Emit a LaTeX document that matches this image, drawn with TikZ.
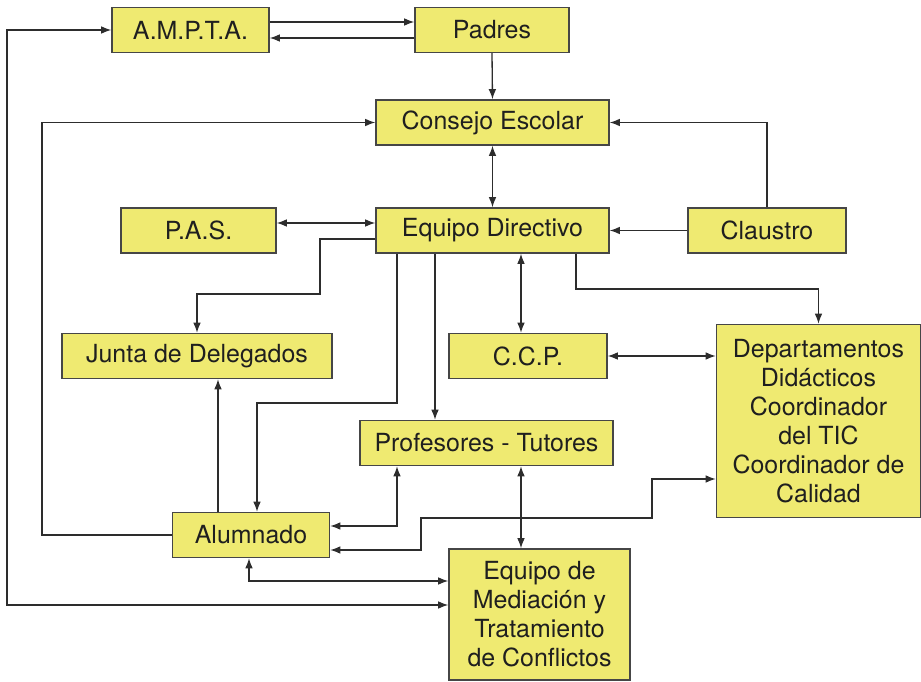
\documentclass[tikz,border=0pt]{standalone}
\usepackage{fontspec}
\setmainfont{TeX Gyre Heros}
\usepackage{xcolor}
\usepackage{tikz}
\usetikzlibrary{arrows.meta}

\definecolor{boxyellow}{RGB}{239,234,113}
\definecolor{boxline}{RGB}{70,70,70}
\definecolor{wire}{RGB}{45,45,45}

\begin{document}
\begin{tikzpicture}[x=0.02cm, y=-0.02cm,
    box/.style={draw=boxline, line width=0.85pt, fill=boxyellow, text=black!88,
      inner sep=0pt, minimum height=0.9cm, align=center,
      font=\fontsize{14.2}{16.5}\selectfont},
    link/.style={draw=wire, line width=0.75pt},
    >={Latex[length=5.8pt,width=4.4pt]}]
    \useasboundingbox (0,0) rectangle (921,682);

    \node[box, minimum width=3.14cm] (ampta) at (190.5,30) {A.M.P.T.A.};
    \node[box, minimum width=3.08cm] (padres) at (492,30) {Padres};
    \node[box, minimum width=4.66cm] (consejo) at (492.5,122.5) {Consejo Escolar};
    \node[box, minimum width=3.1cm] (pas) at (198.5,230.5) {P.A.S.};
    \node[box, minimum width=4.66cm] (equipo) at (492.5,230.5) {Equipo Directivo};
    \node[box, minimum width=3.16cm] (claustro) at (767,230.5) {Claustro};
    \node[box, minimum width=5.4cm] (junta) at (197,356) {Junta de Delegados};
    \node[box, minimum width=3.16cm] (ccp) at (528,356) {C.C.P.};
    \node[box, minimum width=4.08cm, minimum height=3.86cm] (dept) at (818.5,421)
      {Departamentos\\Didácticos\\Coordinador\\del TIC\\Coordinador de\\Calidad};
    \node[box, minimum width=5.06cm] (prof) at (486.5,443) {Profesores - Tutores};
    \node[box, minimum width=3.14cm] (alum) at (251,535) {Alumnado};
    \node[box, minimum width=3.62cm, minimum height=2.62cm] (med) at (539.5,614.5)
      {Equipo de\\Mediación y\\Tratamiento\\de Conflictos};

    \begin{scope}[every path/.style=link]
    \draw[->] (ampta.east |- 0,22) -- (padres.west |- 0,22);
    \draw[->] (padres.west |- 0,38) -- (ampta.east |- 0,38);
    \draw[->] (padres.south) -- (consejo.north);
    \draw[->] (claustro.north) |- (consejo.east);
    \draw[->] (alum.west) -- (42,535) |- (consejo.west);
    \draw[<->] (consejo.south) -- (equipo.north);
    \draw[<->] (pas.east |- 0,223) -- (equipo.west |- 0,223);
    \draw[->] (claustro.west) -- (equipo.east);
    \draw[->] (equipo.west |- 0,239) -| (320,294) -| (junta.north);
    \draw[<->] (521,0 |- equipo.south) -- (521,0 |- ccp.north);
    \draw[->] (576,0 |- equipo.south) -- (576,289) -| (dept.north);
    \draw[<->] (ccp.east) -- (ccp.east -| dept.west);
    \draw[->] (435,0 |- equipo.south) -- (435,0 |- prof.north);
    \draw[->] (397,0 |- equipo.south) -- (397,403) -| (257,0 |- alum.north);
    \draw[->] (218,0 |- alum.north) -- (218,0 |- junta.south);
    \draw[<->] (397,0 |- prof.south) |- (alum.east |- 0,526);
    \draw[<->] (521,0 |- prof.south) -- (521,0 |- med.north);
    \draw[<->] (dept.west |- 0,479) -| (652,518) -| (421,550) -- (alum.east |- 0,550);
    \draw[<->] (249,0 |- alum.south) |- (med.west |- 0,581);
    \draw[<->] (ampta.west) -| (7,605) -- (med.west |- 0,605);
    \end{scope}
  \end{tikzpicture}
\end{document}
